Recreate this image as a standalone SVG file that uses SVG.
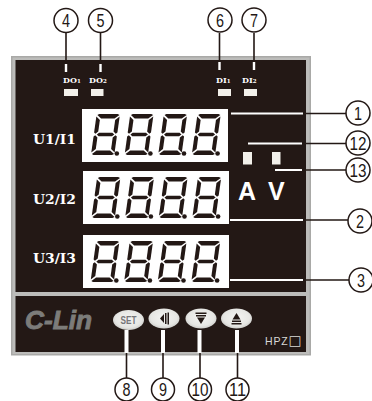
<svg xmlns="http://www.w3.org/2000/svg" xmlns:xlink="http://www.w3.org/1999/xlink" width="372" height="401" viewBox="0 0 372 401">
<style>
.cn{fill:#fff;stroke:#231815;stroke-width:1.5}
.ct{font-family:"Liberation Sans",sans-serif;font-size:18px;fill:#231815;text-anchor:middle}
.lb{font-family:"DejaVu Serif",serif;font-weight:bold;font-size:13px;fill:#fff}
.sm{font-family:"DejaVu Serif",serif;font-weight:bold;font-size:8px;fill:#fff}
.sb{font-size:5.500px}
.k{stroke:#231815;stroke-width:1.6;fill:none}
.w{stroke:#fff;stroke-width:2;fill:none}
.wv{stroke:#fff;stroke-width:3;fill:none}
.led{fill:#f2f0ea}
.au{font-family:"Liberation Sans",sans-serif;font-weight:bold;font-size:25px;fill:#fff}
.disp{fill:#fff}
.btn{fill:url(#bg)}
.ic{fill:#231815}
</style>
<defs>
<radialGradient id="bg" cx="50%" cy="45%" r="60%"><stop offset="0" stop-color="#f4f4f2"/><stop offset="0.7" stop-color="#e6e6e3"/><stop offset="1" stop-color="#c4c4c1"/></radialGradient>
<g id="dig" fill="#231815">
<g transform="matrix(1 0 -0.14 1 5.7 0)">
<polygon points="2.5,0 21,0 23,1 18.5,4.500 5,4.500 0.8,1"/>
<polygon points="0,2.500 4,6 4,17.500 1.500,19.800 0,18.500"/>
<polygon points="23.300,2.500 19.300,6 19.300,17.500 21.800,19.800 23.300,18.500"/>
<polygon points="3,20.500 5,18.700 18.300,18.700 20.500,20.500 18.300,22.300 5,22.300"/>
<polygon points="0,22.500 1.500,21.200 4,23.500 4,35 0,38.500"/>
<polygon points="23.300,22.500 21.800,21.200 19.300,23.500 19.300,35 23.300,38.500"/>
<polygon points="5,36.500 18.500,36.500 23,40 21,41 2.500,41 0.800,40"/>
</g>
<circle cx="25.800" cy="39.500" r="2.300"/>
</g>
<g id="four">
<use xlink:href="#dig" x="0"/><use xlink:href="#dig" x="33.600"/><use xlink:href="#dig" x="67.200"/><use xlink:href="#dig" x="100.800"/>
</g>
</defs>
<rect width="372" height="401" fill="#fff"/>
<g id="panel">
<rect x="11" y="56" width="300" height="299.500" fill="#a9a9a7"/>
<rect x="12.500" y="57.500" width="297" height="296.500" fill="#bcbcba"/>
<rect x="15.500" y="60" width="290.500" height="232" fill="#231815"/>
<rect x="15.500" y="296" width="290.500" height="56" fill="#231815"/>
</g>
<g id="connectors">
<path class="k" d="M66 33V63M100.500 33V63M219.500 33V63M254 33V63"/>
<path class="wv" d="M66 64V72M100.500 64V72M219.500 62V70M254 62V70" style="stroke-width:2.400"/>
<path class="k" d="M303 113.500H346M302 143.500H346M302 170H346M303 220H348M303 280H349"/>
<path class="w" d="M231 113.500H303M248 143.500H302M275 170H302M230 220H303M230 280H303"/>
<path class="wv" d="M126.500 330V353M163 330V353M199.500 330V353M237 330V353" style="stroke-width:4"/>
<path class="k" d="M126.500 353V378M163 353V378M200 353V378M237.500 353V378"/>
</g>
<g id="display-1"><rect class="disp" x="82" y="109" width="146" height="53"/><use xlink:href="#four" x="91" y="114"/></g>
<g id="display-2"><rect class="disp" x="83" y="171" width="146" height="53"/><use xlink:href="#four" x="91.500" y="177"/></g>
<g id="display-3"><rect class="disp" x="83" y="235" width="146" height="53"/><use xlink:href="#four" x="90.500" y="241"/></g>
<g id="label-1"><text class="lb" x="33" y="144" textLength="43" lengthAdjust="spacingAndGlyphs">U1/I1</text></g>
<g id="label-2"><text class="lb" x="33" y="204" textLength="43" lengthAdjust="spacingAndGlyphs">U2/I2</text></g>
<g id="label-3"><text class="lb" x="33" y="263" textLength="43" lengthAdjust="spacingAndGlyphs">U3/I3</text></g>
<g id="led-do1"><text class="sm" x="63" y="83">DO<tspan class="sb">1</tspan></text><rect class="led" x="64" y="89" width="14" height="7"/></g>
<g id="led-do2"><text class="sm" x="89" y="83">DO<tspan class="sb">2</tspan></text><rect class="led" x="91" y="89" width="12.500" height="7"/></g>
<g id="led-di1"><text class="sm" x="216" y="83">DI<tspan class="sb">1</tspan></text><rect class="led" x="218" y="89" width="13" height="7"/></g>
<g id="led-di2"><text class="sm" x="242" y="83">DI<tspan class="sb">2</tspan></text><rect class="led" x="244" y="89" width="13" height="7"/></g>
<g id="unit-bars"><rect class="led" x="243" y="152" width="9" height="12.500"/><rect class="led" x="272" y="152" width="8.500" height="12.500"/></g>
<g id="unit-a"><text class="au" x="238" y="200">A</text></g>
<g id="unit-v"><text class="au" x="268" y="200">V</text></g>
<g id="logo"><text x="25" y="329" textLength="67" lengthAdjust="spacingAndGlyphs" font-family="Liberation Sans,sans-serif" font-weight="bold" font-style="italic" font-size="26" fill="#7c7c7a" stroke="#7c7c7a" stroke-width="0.900">C-Lin</text></g>
<g id="btn-set"><ellipse class="btn" cx="128.500" cy="320" rx="15.500" ry="10"/><text x="128.500" y="324" text-anchor="middle" textLength="16" lengthAdjust="spacingAndGlyphs" font-family="Liberation Sans,sans-serif" font-weight="bold" font-size="11" fill="#77777a">SET</text></g>
<g id="btn-left"><ellipse class="btn" cx="164" cy="318.500" rx="15.500" ry="10"/><polygon class="ic" points="160,318.500 164,314 164,323"/><rect class="ic" x="165" y="313" width="1.500" height="11"/><rect class="ic" x="167.500" y="312.500" width="1.500" height="12"/></g>
<g id="btn-down"><ellipse class="btn" cx="201" cy="318.500" rx="15.500" ry="10"/><rect class="ic" x="195.500" y="312.500" width="11" height="1.500"/><rect class="ic" x="196" y="315" width="10" height="1.500"/><polygon class="ic" points="197,317.500 205,317.500 201,324"/></g>
<g id="btn-up"><ellipse class="btn" cx="236.500" cy="318.500" rx="15.500" ry="10"/><polygon class="ic" points="236.500,313 240.500,319.500 232.500,319.500"/><rect class="ic" x="232" y="320.500" width="9" height="1.500"/><rect class="ic" x="231.500" y="323" width="10" height="1.500"/></g>
<g id="model"><text x="265" y="345" font-family="Liberation Sans,sans-serif" font-size="10.500" letter-spacing="0.800" fill="#d8d8d6">HPZ<tspan font-family="DejaVu Sans,sans-serif" font-size="13.500">□</tspan></text></g>
<g id="c1"><circle class="cn" cx="358" cy="113" r="12"/><text class="ct" x="358" y="119.500" textLength="8" lengthAdjust="spacingAndGlyphs">1</text></g>
<g id="c2"><circle class="cn" cx="360" cy="221" r="12"/><text class="ct" x="360" y="227.500" textLength="8" lengthAdjust="spacingAndGlyphs">2</text></g>
<g id="c3"><circle class="cn" cx="361" cy="280" r="12"/><text class="ct" x="361" y="286.500" textLength="8" lengthAdjust="spacingAndGlyphs">3</text></g>
<g id="c4"><circle class="cn" cx="66" cy="20.500" r="12"/><text class="ct" x="66" y="27" textLength="8" lengthAdjust="spacingAndGlyphs">4</text></g>
<g id="c5"><circle class="cn" cx="100.500" cy="20.500" r="12"/><text class="ct" x="100.500" y="27" textLength="8" lengthAdjust="spacingAndGlyphs">5</text></g>
<g id="c6"><circle class="cn" cx="220" cy="20" r="12"/><text class="ct" x="220" y="26.500" textLength="8" lengthAdjust="spacingAndGlyphs">6</text></g>
<g id="c7"><circle class="cn" cx="254" cy="20" r="12"/><text class="ct" x="254" y="26.500" textLength="8" lengthAdjust="spacingAndGlyphs">7</text></g>
<g id="c8"><circle class="cn" cx="126.500" cy="389.500" r="11.500"/><text class="ct" x="126.500" y="396" textLength="8" lengthAdjust="spacingAndGlyphs">8</text></g>
<g id="c9"><circle class="cn" cx="163" cy="389.500" r="11.500"/><text class="ct" x="163" y="396" textLength="8" lengthAdjust="spacingAndGlyphs">9</text></g>
<g id="c10"><circle class="cn" cx="200" cy="389.500" r="11.500"/><text class="ct" x="200" y="396" textLength="17" lengthAdjust="spacingAndGlyphs">10</text></g>
<g id="c11"><circle class="cn" cx="237.500" cy="389.500" r="11.500"/><text class="ct" x="237.500" y="396" textLength="17" lengthAdjust="spacingAndGlyphs">11</text></g>
<g id="c12"><circle class="cn" cx="358" cy="143" r="12"/><text class="ct" x="358" y="149.500" textLength="17" lengthAdjust="spacingAndGlyphs">12</text></g>
<g id="c13"><circle class="cn" cx="358" cy="170" r="12"/><text class="ct" x="358" y="176.500" textLength="17" lengthAdjust="spacingAndGlyphs">13</text></g>
</svg>
